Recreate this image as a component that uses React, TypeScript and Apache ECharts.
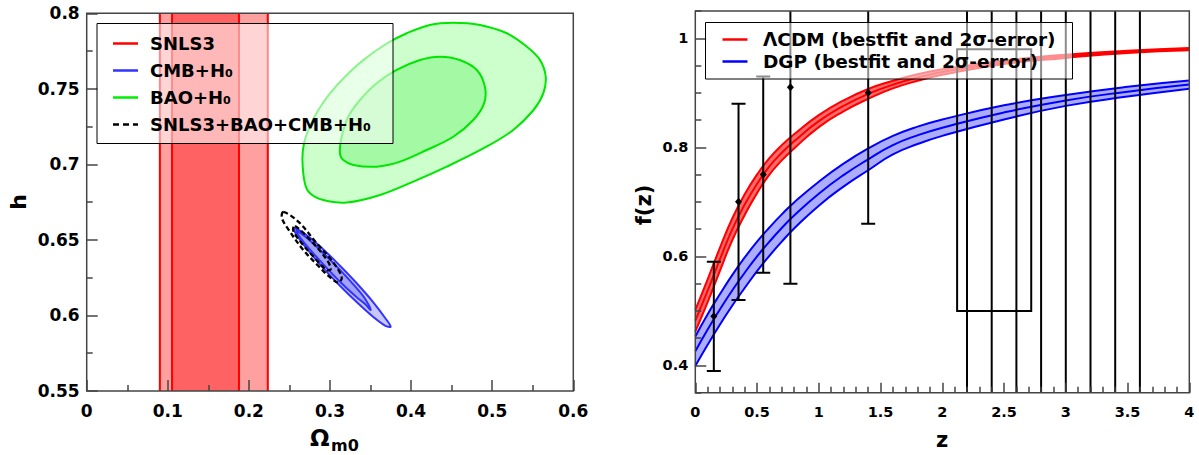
import React, { useEffect, useRef } from "react";
import * as echarts from "echarts";

const FONT = '"DejaVu Sans", sans-serif';

// ---------------- Left panel: (Omega_m0, h) ----------------
const OM_MIN = 0;
const OM_MAX = 0.6;
const H_MIN = 0.55;
const H_MAX = 0.8;

const SNLS3_2SIGMA = [0.089, 0.2245];
const SNLS3_1SIGMA = [0.104, 0.189];

const BAO_OUTER = [
  [0.269, 0.6875], [0.266, 0.703], [0.268, 0.714], [0.275, 0.725], [0.2856, 0.736],
  [0.3, 0.747], [0.3185, 0.758], [0.341, 0.769], [0.37, 0.78], [0.3946, 0.7868],
  [0.423, 0.7923], [0.452, 0.7938], [0.485, 0.7923], [0.518, 0.7868], [0.5425, 0.778],
  [0.559, 0.769], [0.566, 0.758], [0.563, 0.747], [0.551, 0.736], [0.526, 0.7228],
  [0.493, 0.7117], [0.444, 0.6985], [0.4027, 0.6886], [0.3617, 0.6797], [0.3206, 0.6747],
  [0.2917, 0.6764], [0.2753, 0.6809],
];
const BAO_INNER = [
  [0.3123, 0.7073], [0.3144, 0.7183], [0.3226, 0.7316], [0.337, 0.7426], [0.3576, 0.7537],
  [0.3822, 0.7625], [0.411, 0.7691], [0.4356, 0.7713], [0.46, 0.7691], [0.481, 0.7625],
  [0.491, 0.7514], [0.49, 0.7404], [0.4767, 0.7294], [0.452, 0.7183], [0.4192, 0.7095],
  [0.3863, 0.7018], [0.3576, 0.6985], [0.3288, 0.6996], [0.3164, 0.7029],
];
const CMB_OUTER = [
  [0.2556, 0.6577], [0.2713, 0.6531], [0.2918, 0.6437], [0.3123, 0.6329], [0.3329, 0.6213],
  [0.3534, 0.6087], [0.3678, 0.5985], [0.3748, 0.5926], [0.3678, 0.5933], [0.3534, 0.599],
  [0.3329, 0.6089], [0.3123, 0.6197], [0.2918, 0.6313], [0.2713, 0.6443], [0.2589, 0.6533],
];
const CMB_INNER = [
  [0.2589, 0.6561], [0.2713, 0.6514], [0.2918, 0.6412], [0.3123, 0.6302], [0.3329, 0.6181],
  [0.3432, 0.6111], [0.3502, 0.6036], [0.3432, 0.6076], [0.3329, 0.612], [0.3123, 0.6223],
  [0.2918, 0.6338], [0.2713, 0.6461], [0.2609, 0.6533],
];
const JOINT_OUTER = [
  [0.2424, 0.6685], [0.2609, 0.6621], [0.2836, 0.6478], [0.3041, 0.635], [0.3144, 0.6253],
  [0.3103, 0.6217], [0.3, 0.6253], [0.2856, 0.6328], [0.2671, 0.6433], [0.2498, 0.6561],
  [0.2408, 0.6643],
];
const JOINT_INNER = [
  [0.2568, 0.6592], [0.2794, 0.6478], [0.2967, 0.6363], [0.3009, 0.6306], [0.2959, 0.6301],
  [0.2815, 0.6379], [0.2651, 0.6478], [0.2547, 0.6561],
];

// ---------------- Right panel: f(z) ----------------
const Z_MIN = 0;
const Z_MAX = 4;
const F_MIN = 0.35;
const F_MAX = 1.05;
const F_LABELS = [0.4, 0.6, 0.8, 1.0];
const F_MINOR = [0.35, 0.45, 0.5, 0.55, 0.65, 0.7, 0.75, 0.85, 0.9, 0.95, 1.05];

const Z = [0, 0.1, 0.2, 0.3, 0.4, 0.5, 0.6, 0.7, 0.8, 1.0, 1.2, 1.4, 1.6, 1.8, 2.0, 2.5, 3.0, 3.5, 4.0];
const LCDM_MID = [0.482, 0.537, 0.595, 0.65, 0.695, 0.733, 0.765, 0.79, 0.811, 0.848, 0.876, 0.898, 0.915, 0.928, 0.938, 0.956, 0.967, 0.975, 0.98];
const LCDM_UP = [0.502, 0.558, 0.616, 0.67, 0.714, 0.75, 0.78, 0.804, 0.824, 0.859, 0.886, 0.907, 0.922, 0.934, 0.943, 0.959, 0.97, 0.977, 0.982];
const LCDM_LO = [0.462, 0.516, 0.574, 0.63, 0.676, 0.716, 0.75, 0.776, 0.798, 0.837, 0.866, 0.889, 0.908, 0.922, 0.933, 0.953, 0.964, 0.973, 0.978];

const DGP_MID = [0.426, 0.466, 0.503, 0.538, 0.57, 0.6, 0.627, 0.652, 0.675, 0.715, 0.749, 0.778, 0.804, 0.822, 0.836, 0.864, 0.886, 0.902, 0.915];
const DGP_UP = [0.453, 0.494, 0.531, 0.566, 0.598, 0.627, 0.653, 0.677, 0.699, 0.737, 0.77, 0.798, 0.821, 0.838, 0.851, 0.877, 0.896, 0.911, 0.9225];
const DGP_LO = [0.399, 0.438, 0.475, 0.51, 0.542, 0.573, 0.601, 0.627, 0.651, 0.693, 0.728, 0.758, 0.787, 0.806, 0.821, 0.851, 0.876, 0.893, 0.9075];

const OBS_Z = [0.15, 0.35, 0.55, 0.77, 1.4];
const OBS_F = [0.49, 0.7, 0.75, 0.91, 0.9];
const OBS_LO = [0.39, 0.52, 0.57, 0.55, 0.66];
const OBS_HI = [0.59, 0.88, 0.93, 1.27, 1.14];

const WIDE_Z = [2.2, 2.4, 2.6, 2.8, 3.0, 3.2, 3.4, 3.6];
const WIDE_LO = [0.3, 0.3, 0.3, 0.3, 0.3, 0.3, 0.3, 0.3];
const WIDE_HI = [1.1, 1.1, 1.1, 1.1, 1.1, 1.1, 1.1, 1.1];

const BOX = [2.12, 2.72, 0.5, 0.98];

const zip = (xs: number[], ys: number[]) => xs.map((x, i) => [x, ys[i]]);

function buildOption() {
  const tickStyle = { color: "#444", width: 1.5 };
  const lbl = (size: number, margin: number) => ({
    fontFamily: FONT,
    fontWeight: "bold",
    fontSize: size,
    color: "#000",
    margin,
  });

  const contour = (name: string, pts: number[][], fill: string, stroke: string, dash?: number[]) => ({
    type: "custom",
    name,
    xAxisIndex: 0,
    yAxisIndex: 0,
    data: pts,
    renderItem: (params: any, api: any) => {
      if (params.dataIndex !== 0) return null;
      const points = pts.map((p) => api.coord(p));
      return {
        type: "polygon",
        shape: { points, smooth: 0.35 },
        style: { fill, stroke, lineWidth: dash ? 2.3 : 2, lineDash: dash || null },
      };
    },
  });

  const lineSeries = (name: string, ys: number[], color: string, extra: any = {}) => ({
    type: "line",
    name,
    xAxisIndex: 1,
    yAxisIndex: 1,
    data: zip(Z, ys),
    smooth: true,
    showSymbol: false,
    symbol: "none",
    lineStyle: { color, width: 2 },
    ...extra,
  });

  const series: any[] = [
    {
      type: "custom",
      name: "SNLS3",
      xAxisIndex: 0,
      yAxisIndex: 0,
      data: [SNLS3_2SIGMA, SNLS3_1SIGMA],
      renderItem: (params: any, api: any) => {
        const a = api.coord([api.value(0), H_MAX]);
        const b = api.coord([api.value(1), H_MIN]);
        const fill = params.dataIndex === 0 ? "#ffa0a0" : "#ff6262";
        const ls = { stroke: "#ff0000", lineWidth: 2 };
        return {
          type: "group",
          children: [
            { type: "rect", shape: { x: a[0], y: a[1], width: b[0] - a[0], height: b[1] - a[1] }, style: { fill } },
            { type: "line", shape: { x1: a[0] + 1, y1: a[1], x2: a[0] + 1, y2: b[1] }, style: ls },
            { type: "line", shape: { x1: b[0] - 1, y1: a[1], x2: b[0] - 1, y2: b[1] }, style: ls },
          ],
        };
      },
    },
    contour("BAO+H0 2σ", BAO_OUTER, "#ccffcc", "#00e600"),
    contour("BAO+H0 1σ", BAO_INNER, "#a4f9a4", "#00e600"),
    contour("CMB+H0 2σ", CMB_OUTER, "#c8c8ff", "#3333ff"),
    contour("CMB+H0 1σ", CMB_INNER, "#a2a2f6", "#3333ff"),
    contour("joint 2σ", JOINT_OUTER, "none", "#000", [5, 3]),
    contour("joint 1σ", JOINT_INNER, "none", "#000", [5, 3]),

    // bands: fill under the upper edge, then white under the lower edge
    lineSeries("ΛCDM upper", LCDM_UP, "#ff0000", { areaStyle: { color: "#ff6a6a", opacity: 1, origin: "start" } }),
    lineSeries("ΛCDM lower", LCDM_LO, "#ff0000", { areaStyle: { color: "#ffffff", opacity: 1, origin: "start" } }),
    lineSeries("ΛCDM", LCDM_MID, "#ff0000"),
    lineSeries("DGP upper", DGP_UP, "#0000ff", { areaStyle: { color: "#adadff", opacity: 1, origin: "start" } }),
    lineSeries("DGP lower", DGP_LO, "#0000ff", { areaStyle: { color: "#ffffff", opacity: 1, origin: "start" } }),
    lineSeries("DGP", DGP_MID, "#0000ff"),

    {
      type: "custom",
      name: "data",
      xAxisIndex: 1,
      yAxisIndex: 1,
      clip: true,
      z: 5,
      data: OBS_Z.map((z, i) => [z, OBS_F[i], OBS_LO[i], OBS_HI[i]]),
      renderItem: (params: any, api: any) => {
        const z = api.value(0);
        const c = api.coord([z, api.value(1)]);
        const lo = api.coord([z, api.value(2)]);
        const hi = api.coord([z, api.value(3)]);
        const ls = { stroke: "#000", lineWidth: 2 };
        const cw = 7;
        return {
          type: "group",
          children: [
            { type: "line", shape: { x1: lo[0], y1: lo[1], x2: hi[0], y2: hi[1] }, style: ls },
            { type: "line", shape: { x1: lo[0] - cw, y1: lo[1], x2: lo[0] + cw, y2: lo[1] }, style: ls },
            { type: "line", shape: { x1: hi[0] - cw, y1: hi[1], x2: hi[0] + cw, y2: hi[1] }, style: ls },
            {
              type: "polygon",
              shape: { points: [[c[0], c[1] - 4], [c[0] + 3.5, c[1]], [c[0], c[1] + 4], [c[0] - 3.5, c[1]]] },
              style: { fill: "#000" },
            },
          ],
        };
      },
    },
    {
      type: "custom",
      name: "wide",
      xAxisIndex: 1,
      yAxisIndex: 1,
      clip: true,
      z: 5,
      data: WIDE_Z.map((z, i) => [z, WIDE_LO[i], WIDE_HI[i]]),
      renderItem: (params: any, api: any) => {
        const z = api.value(0);
        const lo = api.coord([z, api.value(1)]);
        const hi = api.coord([z, api.value(2)]);
        return { type: "line", shape: { x1: lo[0], y1: lo[1], x2: hi[0], y2: hi[1] }, style: { stroke: "#000", lineWidth: 2 } };
      },
    },
    {
      type: "custom",
      name: "box",
      xAxisIndex: 1,
      yAxisIndex: 1,
      clip: true,
      z: 5,
      data: [BOX],
      renderItem: (params: any, api: any) => {
        const a = api.coord([api.value(0), api.value(3)]);
        const b = api.coord([api.value(1), api.value(2)]);
        return {
          type: "rect",
          shape: { x: a[0], y: a[1], width: b[0] - a[0], height: b[1] - a[1] },
          style: { fill: "none", stroke: "#000", lineWidth: 2 },
        };
      },
    },
  ];

  const txt = (text: string, x: number, y: number, size: number, extra: any = {}, style: any = {}) => ({
    type: "text",
    x,
    y,
    z: 102,
    ...extra,
    style: {
      text,
      fontFamily: FONT,
      fontWeight: "bold",
      fontSize: size,
      fill: "#000",
      verticalAlign: "middle",
      ...style,
    },
  });
  const seg = (x1: number, x2: number, y: number, color: string, dash?: number[]) => ({
    type: "line",
    z: 101,
    shape: { x1, y1: y, x2, y2: y },
    style: { stroke: color, lineWidth: 2.5, lineDash: dash || null },
  });

  const graphic: any[] = [
    // left legend
    {
      type: "rect",
      z: 100,
      shape: { x: 97, y: 23.5, width: 296, height: 120 },
      style: { fill: "rgba(255,255,255,0.55)", stroke: "#000", lineWidth: 1 },
    },
    seg(113, 138, 43.5, "#ff0000"),
    seg(113, 138, 70.5, "#3333ff"),
    seg(113, 138, 97.5, "#00ee00"),
    seg(113, 138, 124.5, "#000", [6, 4]),
    txt("SNLS3", 150, 43.5, 18),
    txt("CMB+H₀", 150, 70.5, 18),
    txt("BAO+H₀", 150, 97.5, 18),
    txt("SNLS3+BAO+CMB+H₀", 150, 124.5, 18),
    // right legend
    {
      type: "rect",
      z: 100,
      shape: { x: 705.5, y: 22.5, width: 367, height: 56.5 },
      style: { fill: "rgba(255,255,255,0.55)", stroke: "#000", lineWidth: 1 },
    },
    seg(722.5, 747.5, 39.5, "#ff0000"),
    seg(722.5, 747.5, 61.5, "#0000ff"),
    txt("ΛCDM (bestfit and 2σ-error)", 763, 39.5, 18.5),
    txt("DGP (bestfit and 2σ-error)", 763, 61.5, 18.5),
    // axis titles
    txt("h", 18, 202, 22, { rotation: Math.PI / 2 }, { align: "center" }),
    txt("Ω", 310, 438, 23),
    txt("m0", 331, 445, 16),
    txt("f(z)", 644, 205, 21, { rotation: Math.PI / 2 }, { align: "center" }),
    txt("z", 942, 440, 21, {}, { align: "center" }),
  ];

  return {
    animation: false,
    backgroundColor: "#fff",
    grid: [
      { left: 86.7, top: 13.3, width: 486.6, height: 377.7, show: true, z: 10, borderColor: "#444", borderWidth: 1.5, backgroundColor: "transparent" },
      { left: 695.3, top: 11, width: 494, height: 381.7, show: true, z: 10, borderColor: "#444", borderWidth: 1.5, backgroundColor: "transparent" },
    ],
    xAxis: [
      {
        type: "value",
        gridIndex: 0,
        z: 10,
        min: OM_MIN,
        max: OM_MAX,
        interval: 0.1,
        axisLine: { show: false },
        axisTick: { inside: true, length: 11, lineStyle: tickStyle },
        minorTick: { show: true, splitNumber: 2, length: 6, lineStyle: tickStyle },
        splitLine: { show: false },
        minorSplitLine: { show: false },
        axisLabel: lbl(17, 11),
      },
      {
        type: "value",
        gridIndex: 1,
        z: 10,
        min: Z_MIN,
        max: Z_MAX,
        interval: 0.5,
        axisLine: { show: false },
        axisTick: { inside: true, length: 10, lineStyle: tickStyle },
        minorTick: { show: true, splitNumber: 5, length: 6, lineStyle: tickStyle },
        splitLine: { show: false },
        minorSplitLine: { show: false },
        axisLabel: lbl(14.5, 12),
      },
    ],
    yAxis: [
      {
        type: "value",
        gridIndex: 0,
        z: 10,
        position: "left",
        min: H_MIN,
        max: H_MAX,
        interval: 0.05,
        axisLine: { show: false },
        axisTick: { inside: true, length: 11, lineStyle: tickStyle },
        minorTick: { show: true, splitNumber: 2, length: 6, lineStyle: tickStyle },
        splitLine: { show: false },
        minorSplitLine: { show: false },
        axisLabel: lbl(17, 7),
      },
      {
        type: "value",
        gridIndex: 1,
        z: 10,
        position: "left",
        min: F_MIN,
        max: F_MAX,
        axisLine: { show: false },
        axisTick: { inside: true, length: 11, lineStyle: tickStyle, customValues: F_LABELS },
        splitLine: { show: false },
        axisLabel: { ...lbl(14.5, 7), customValues: F_LABELS },
      },
      {
        type: "value",
        gridIndex: 1,
        z: 10,
        position: "left",
        min: F_MIN,
        max: F_MAX,
        axisLine: { show: false },
        axisTick: { inside: true, length: 6, lineStyle: tickStyle, customValues: F_MINOR },
        splitLine: { show: false },
        axisLabel: { show: false },
      },
    ],
    series,
    graphic,
  };
}

export default function App() {
  const ref = useRef<HTMLDivElement>(null);
  useEffect(() => {
    document.body.style.margin = "0";
    if (!ref.current) return;
    const chart = echarts.init(ref.current, null, { renderer: "svg" });
    chart.setOption(buildOption() as any);
    return () => chart.dispose();
  }, []);
  return <div ref={ref} style={{ width: 1199, height: 455 }} />;
}
